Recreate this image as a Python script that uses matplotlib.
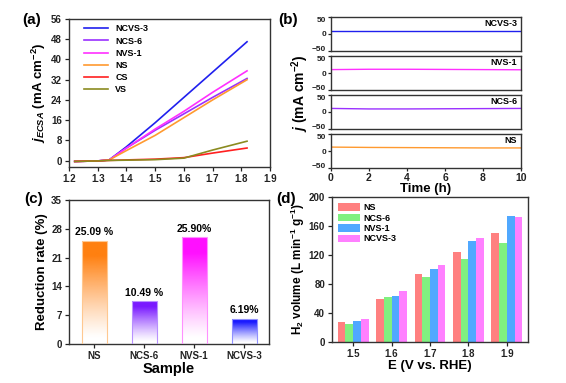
import numpy as np
import matplotlib
matplotlib.use("Agg")
import matplotlib.pyplot as plt
from matplotlib.colors import to_rgb
from matplotlib.transforms import ScaledTranslation

plt.rcParams['font.family'] = ['Liberation Sans', 'DejaVu Sans']
plt.rcParams['font.weight'] = 'bold'
plt.rcParams['axes.labelweight'] = 'bold'
plt.rcParams['mathtext.fontset'] = 'custom'
plt.rcParams['mathtext.rm'] = 'Liberation Sans:bold'
plt.rcParams['mathtext.it'] = 'Liberation Sans:italic:bold'
plt.rcParams['mathtext.bf'] = 'Liberation Sans:bold'
plt.rcParams['axes.edgecolor'] = '#333333'
plt.rcParams['axes.linewidth'] = 1.0

# ---------------- data ----------------
# (a) LSV normalised by ECSA
pot = [1.22, 1.30, 1.34, 1.40, 1.50, 1.60, 1.70, 1.82]
j_ncvs3 = [-0.3, -0.1, 0.3, 5.5, 15.0, 25.0, 35.0, 47.0]
j_ncs6 = [-0.3, -0.1, 0.3, 5.0, 12.0, 18.5, 25.0, 32.5]
j_nvs1 = [-0.3, -0.1, 0.3, 5.0, 12.5, 19.5, 27.0, 35.5]
j_ns = [-0.3, -0.1, 0.3, 4.0, 10.0, 17.0, 24.0, 32.0]
j_cs = [-0.3, -0.1, 0.1, 0.3, 0.6, 1.2, 3.0, 5.0]
j_vs = [-0.3, -0.1, 0.1, 0.2, 0.4, 1.0, 4.2, 7.7]
lsv_names = ["NCVS-3", "NCS-6", "NVS-1", "NS", "CS", "VS"]
lsv_colors = ["#2020ee", "#9a30ff", "#ff30ff", "#ff9a30", "#ff2020", "#8b8b20"]

# (b) stability
time_h = [0, 2, 4, 6, 8, 10]
stab_names = ["NCVS-3", "NVS-1", "NCS-6", "NS"]
stab_ncvs3 = [9.0, 9.0, 9.0, 9.0, 9.0, 9.0]
stab_nvs1 = [10.0, 11.0, 11.0, 10.5, 10.0, 9.5]
stab_ncs6 = [10.5, 9.0, 9.0, 9.5, 10.0, 10.5]
stab_ns = [11.5, 10.5, 10.0, 9.5, 9.0, 9.0]
stab_colors = ["#2020ee", "#ff30ff", "#9a30ff", "#ff9a30"]

# (c) reduction rate
samples = ["NS", "NCS-6", "NVS-1", "NCVS-3"]
reduction = [25.09, 10.49, 25.90, 6.19]
reduction_labels = ["25.09 %", "10.49 %", "25.90%", "6.19%"]
red_colors = ["#ff8010", "#7a1aff", "#ff10ff", "#1a1aff"]
red_edges = ["#ffc890", "#b890ff", "#ff90ff", "#9090ff"]

# (d) H2 volume
potentials = ["1.5", "1.6", "1.7", "1.8", "1.9"]
h2_ns = [27, 60, 94, 124, 151]
h2_ncs6 = [25, 62, 90, 115, 137]
h2_nvs1 = [29, 64, 101, 139, 174]
h2_ncvs3 = [32, 70, 106, 143, 172]
h2_names = ["NS", "NCS-6", "NVS-1", "NCVS-3"]
h2_colors = ["#ff8080", "#80f080", "#50a8ff", "#ff80ff"]

# ---------------- figure ----------------
W, H = 566, 383
fig = plt.figure(figsize=(W / 100, H / 100), dpi=100)


def rect(l, r, t, b):
    return [l / W, 1 - b / H, (r - l) / W, (b - t) / H]


tick_kw = dict(labelsize=7, width=0.9, length=3, direction='out', colors='#222222', pad=2)

# (a)
axa = fig.add_axes(rect(69, 270, 19, 167))
for y, n, c in zip([j_ncvs3, j_ncs6, j_nvs1, j_ns, j_cs, j_vs], lsv_names, lsv_colors):
    axa.plot(pot, y, color=c, lw=1.2, label=n)
axa.set_xlim(1.2, 1.9)
axa.set_ylim(-2.5, 56)
axa.set_xticks(np.arange(1.2, 1.91, 0.1))
axa.set_yticks(np.arange(0, 57, 8))
axa.tick_params(**tick_kw)
axa.set_ylabel(r"$j_{ECSA}$ (mA cm$^{-2}$)", fontsize=9.5, labelpad=2)
axa.legend(loc='upper left', frameon=False, fontsize=6.5, handlelength=2.6,
           labelspacing=0.35, borderaxespad=0.2, bbox_to_anchor=(0.05, 1.0))

# (b)
stab_data = [stab_ncvs3, stab_nvs1, stab_ncs6, stab_ns]
hh = 34.0
gap = 5.0
tops = [17 + i * (hh + gap) for i in range(4)]
axes_b = []
for i, (y, n, c) in enumerate(zip(stab_data, stab_names, stab_colors)):
    ax = fig.add_axes(rect(331, 521, tops[i], tops[i] + hh))
    ax.plot(time_h, y, color=c, lw=1.0)
    ax.set_xlim(0, 10)
    ax.set_ylim(-50, 50)
    ax.set_yticks([-50, 0, 50])
    ax.set_xticks(np.arange(0, 11, 2))
    ax.tick_params(labelsize=6, width=0.9, length=2.5, direction='out', colors='#222222', pad=1)
    labs = ax.get_yticklabels()
    labs[0].set_transform(labs[0].get_transform() + ScaledTranslation(0, 1.5 / 72, fig.dpi_scale_trans))
    labs[2].set_transform(labs[2].get_transform() + ScaledTranslation(0, -1.5 / 72, fig.dpi_scale_trans))
    ax.text(0.98, 0.93, n, transform=ax.transAxes, ha='right', va='top', fontsize=6.5,
            fontweight='bold')
    if i < 3:
        ax.tick_params(axis='x', labelbottom=False, length=0)
    axes_b.append(ax)
axes_b[-1].tick_params(axis='x', labelsize=7.5)
axes_b[-1].set_xlabel("Time (h)", fontsize=9.5, labelpad=0)
fig.text(300 / W, 1 - 93 / H, r"$j$ (mA cm$^{-2}$)", rotation=90, ha='center', va='center',
         fontsize=10)

# (c)
axc = fig.add_axes(rect(69, 269, 200, 344))
xc = np.arange(len(samples))
bw = 0.5
bars = axc.bar(xc, reduction, width=bw, facecolor='none', edgecolor=red_edges, lw=0.8,
               zorder=3)
for b, col in zip(bars, red_colors):
    rgb = to_rgb(col)
    t = np.linspace(0, 1, 200)[:, None]
    alpha = np.clip((t - 0.05) / 0.8, 0, 1) ** 1.2
    img = np.zeros((200, 1, 4))
    img[..., 0], img[..., 1], img[..., 2] = rgb
    img[..., 3] = alpha
    x0 = b.get_x()
    im = axc.imshow(img, extent=(x0, x0 + b.get_width(), 0, b.get_height()), origin='lower',
                    aspect='auto', zorder=2, interpolation='bilinear')
    im.set_clip_path(b)
for x, v, lab in zip(xc, reduction, reduction_labels):
    axc.text(x, v + 0.8, lab, ha='center', va='bottom', fontsize=7.5, fontweight='bold')
axc.set_xlim(-0.5, 3.5)
axc.set_ylim(0, 35)
axc.set_yticks(np.arange(0, 36, 7))
axc.set_xticks(xc)
axc.set_xticklabels(samples)
axc.tick_params(**tick_kw)
axc.set_ylabel("Reduction rate (%)", fontsize=9.5, labelpad=2)
axc.set_xlabel("Sample", fontsize=10.5, labelpad=1)

# (d)
axd = fig.add_axes(rect(332, 528, 197, 342))
xd = np.arange(len(potentials))
w = 0.2
for k, (vals, n, c) in enumerate(zip([h2_ns, h2_ncs6, h2_nvs1, h2_ncvs3], h2_names, h2_colors)):
    axd.bar(xd + (k - 1.5) * w, vals, width=w, color=c, label=n)
axd.set_xlim(-0.55, 4.55)
axd.set_ylim(0, 200)
axd.set_yticks(np.arange(0, 201, 40))
axd.set_xticks(xd)
axd.set_xticklabels(potentials)
axd.tick_params(**tick_kw)
axd.set_ylabel(r"H$_2$ volume (L min$^{-1}$ g$^{-1}$)", fontsize=8.5, labelpad=1)
axd.set_xlabel("E (V vs. RHE)", fontsize=9.5, labelpad=1)
axd.legend(loc='upper left', frameon=False, fontsize=6.5, handlelength=2.4, handleheight=0.9,
           labelspacing=0.15, borderaxespad=0.3, handletextpad=0.4)

# panel labels
for s, x, y in [("(a)", 22, 20), ("(b)", 278, 20), ("(c)", 24, 199), ("(d)", 276, 199)]:
    fig.text(x / W, 1 - y / H, s, fontsize=11, fontweight='bold', va='center', ha='left')

fig.savefig("out.png", dpi=100)
